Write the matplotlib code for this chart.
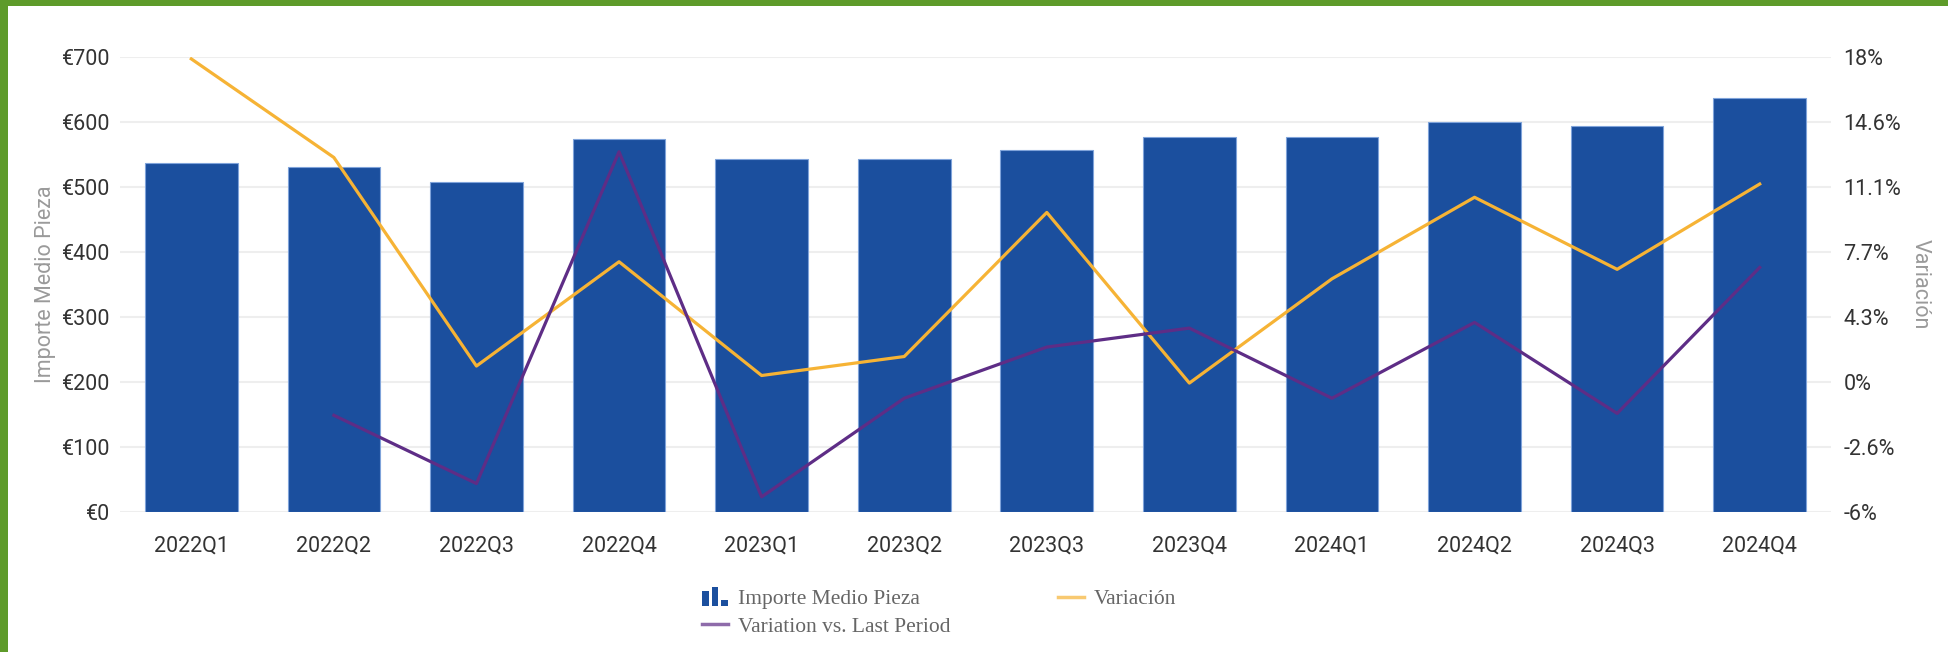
import numpy as np
import matplotlib.pyplot as plt
from matplotlib.legend_handler import HandlerBase
from matplotlib.patches import Rectangle
from matplotlib.lines import Line2D

# ------------------------------------------------------------
# datos
# ------------------------------------------------------------
quarters = ["2022Q1", "2022Q2", "2022Q3", "2022Q4",
            "2023Q1", "2023Q2", "2023Q3", "2023Q4",
            "2024Q1", "2024Q2", "2024Q3", "2024Q4"]
importe = [537, 531, 508, 574, 543, 543, 557, 577, 577, 600, 594, 637]
variacion = [17.9, 12.7, 1.7, 7.2, 1.2, 2.2, 9.8, 0.8, 6.3, 10.6, 6.8, 11.3]
vs_last = [np.nan, -0.9, -4.5, 13.0, -5.2, 0.0, 2.7, 3.7, 0.0, 4.0, -0.8, 6.9]

left_ticks = [0, 100, 200, 300, 400, 500, 600, 700]
left_labels = ["€0", "€100", "€200", "€300", "€400", "€500", "€600", "€700"]
right_labels = ["-6%", "-2.6%", "0%", "4.3%", "7.7%", "11.1%", "14.6%", "18%"]

BAR = "#1B4F9E"
ORANGE = "#F6B335"
PURPLE = "#5E2D86"
GREEN = "#5E9B2A"

plt.rcParams["font.family"] = ["Roboto", "DejaVu Sans"]


class BarIcon(HandlerBase):
    # icono de barras para la leyenda
    def create_artists(self, legend, orig_handle, xdescent, ydescent,
                       width, height, fontsize, trans):
        arts = []
        bw = width * 0.26
        hs = [1.0, 1.3, 0.45]
        for i, h in enumerate(hs):
            r = Rectangle((-xdescent + i * width * 0.37, -ydescent - height * 0.15),
                          bw, height * h, facecolor=BAR, edgecolor="none",
                          transform=trans)
            arts.append(r)
        return arts


fig = plt.figure(figsize=(19.48, 6.52), dpi=100)
ax = fig.add_axes([120 / 1948, 1 - 512 / 652, (1831 - 120) / 1948, (512 - 57) / 652])

x = np.arange(len(quarters))
bars = ax.bar(x, importe, width=0.65, color=BAR, edgecolor="#7FA3DA",
              linewidth=0.8, zorder=2)
ax.set_xlim(-0.5, len(quarters) - 0.5)
ax.set_ylim(0, 700)
ax.set_yticks(left_ticks)
ax.set_yticklabels(left_labels)
ax.set_xticks(x)
ax.set_xticklabels(quarters)
ax.grid(axis="y", color="#eeeeee", linewidth=1.5, zorder=0)
ax.set_axisbelow(True)
ax.tick_params(length=0, labelsize=15.5, labelcolor="#333333")
ax.tick_params(axis="x", pad=17)
ax.tick_params(axis="y", pad=7)
for s in ax.spines.values():
    s.set_visible(False)
ax.set_ylabel("Importe Medio Pieza", fontsize=15.5, color="#9a9a9a", labelpad=4)

ax2 = ax.twinx()
ax2.set_ylim(-6, 18)
ax2.set_yticks(np.linspace(-6, 18, 8))
ax2.set_yticklabels(right_labels)
ax2.tick_params(length=0, labelsize=15.5, labelcolor="#333333", pad=9)
for s in ax2.spines.values():
    s.set_visible(False)
ax2.set_ylabel("Variación", fontsize=15.5, color="#9a9a9a", rotation=270,
               labelpad=21)

l1, = ax2.plot(x, variacion, color=ORANGE, linewidth=2.3, zorder=3)
l2, = ax2.plot(x, vs_last, color=PURPLE, linewidth=2.3, zorder=3)

# leyenda
h_bar = Rectangle((0, 0), 1, 1, color=BAR)
h_or = Line2D([], [], color=ORANGE, linewidth=2.5, alpha=0.7)
h_pu = Line2D([], [], color=PURPLE, linewidth=2.5, alpha=0.7)
fig.legend([h_bar, h_pu, h_or],
           ["Importe Medio Pieza", "Variation vs. Last Period", "Variación"],
           handler_map={Rectangle: BarIcon()},
           loc="center", bbox_to_anchor=(0.482, 0.06), ncol=2,
           frameon=False, handlelength=1.2, handletextpad=0.45,
           columnspacing=5.0, labelspacing=0.35,
           prop={"family": "Liberation Serif", "size": 15.5},
           labelcolor="#666666")

# marco verde
fig.patches.append(Rectangle((0, 1 - 6 / 652), 1, 6 / 652, transform=fig.transFigure,
                             facecolor=GREEN, edgecolor="none", zorder=10))
fig.patches.append(Rectangle((0, 0), 8 / 1948, 1, transform=fig.transFigure,
                             facecolor=GREEN, edgecolor="none", zorder=10))

fig.savefig("out.png", dpi=100, facecolor="white")
plt.close(fig)
